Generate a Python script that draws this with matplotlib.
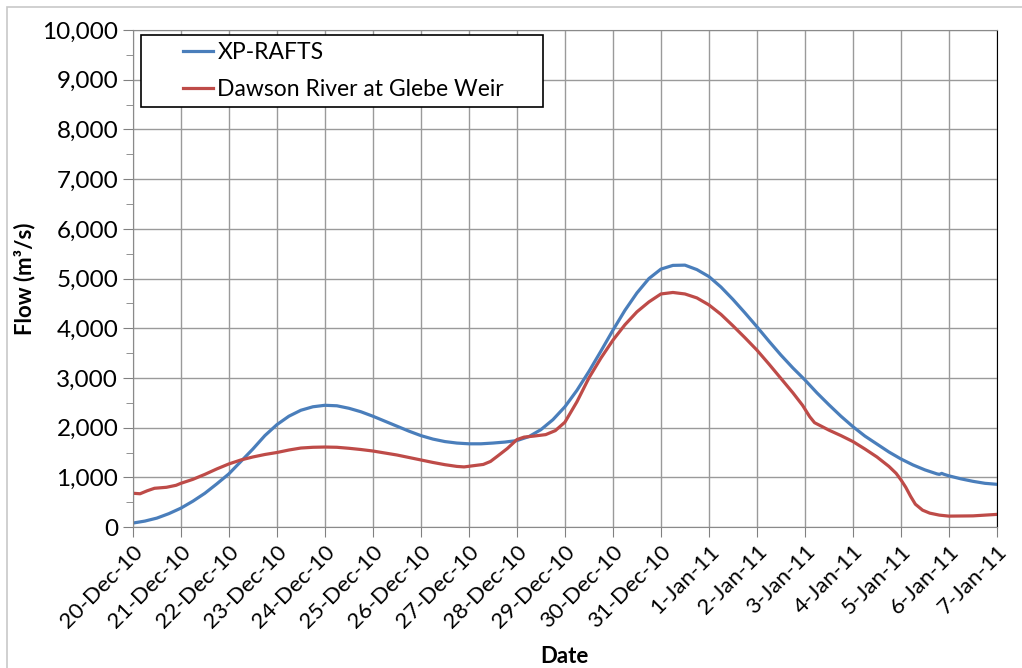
import datetime as dt
import matplotlib
matplotlib.use("Agg")
import matplotlib.pyplot as plt
import matplotlib.dates as mdates
from matplotlib.patches import Rectangle
from matplotlib.ticker import MultipleLocator, FuncFormatter

plt.rcParams['font.family'] = ['Lato', 'DejaVu Sans']

start = dt.datetime(2010, 12, 20)

# XP-RAFTS model hydrograph (days after 20-Dec-10, m3/s)
rafts_days = [0, 0.25, 0.5, 0.75, 1, 1.25, 1.5, 1.75, 2, 2.25, 2.5, 2.75, 3,
              3.25, 3.5, 3.75, 4, 4.25, 4.5, 4.75, 5, 5.25, 5.5, 5.75, 6,
              6.25, 6.5, 6.75, 7, 7.25, 7.5, 7.75, 8, 8.25, 8.5, 8.75, 9,
              9.25, 9.5, 9.75, 10, 10.25, 10.5, 10.75, 11, 11.25, 11.5, 11.75,
              12, 12.25, 12.5, 12.75, 13, 13.25, 13.5, 13.75, 14, 14.25, 14.5,
              14.75, 15, 15.25, 15.5, 15.75, 16, 16.25, 16.5, 16.75, 16.8,
              16.85, 16.9, 17, 17.25, 17.5, 17.75, 18]
rafts_flow = [80, 120, 180, 270, 380, 520, 680, 870, 1070, 1320, 1570, 1840,
              2060, 2230, 2350, 2420, 2450, 2440, 2390, 2320, 2230, 2130, 2030,
              1930, 1840, 1770, 1720, 1690, 1675, 1675, 1690, 1710, 1740,
              1820, 1960, 2160, 2420, 2750, 3130, 3540, 3960, 4360, 4710, 5000,
              5190, 5265, 5270, 5180, 5040, 4830, 4580, 4310, 4030, 3740, 3460,
              3200, 2960, 2700, 2460, 2230, 2020, 1830, 1670, 1510, 1370, 1250,
              1150, 1070, 1060, 1080, 1060, 1030, 970, 920, 880, 860]

# Recorded flow, Dawson River at Glebe Weir
gauge_days = [0, 0.15, 0.3, 0.45, 0.7, 0.9, 1, 1.25, 1.5, 1.75, 2, 2.25, 2.5,
              2.75, 3, 3.25, 3.5, 3.75, 4, 4.25, 4.5, 4.75, 5, 5.25, 5.5, 5.75,
              6, 6.25, 6.5, 6.75, 6.9, 7.1, 7.3, 7.45, 7.6, 7.8, 8, 8.15, 8.35,
              8.6, 8.8, 9, 9.25, 9.5, 9.75, 10, 10.25, 10.5, 10.75, 11, 11.25,
              11.5, 11.75, 12, 12.25, 12.5, 12.75, 13, 13.25, 13.5, 13.75,
              13.95, 14.1, 14.2, 14.5, 14.75, 15, 15.25, 15.5, 15.75, 15.9, 16,
              16.1, 16.2, 16.3, 16.45, 16.6, 16.8, 17, 17.5, 18]
gauge_flow = [680, 670, 730, 780, 800, 840, 880, 960, 1060, 1170, 1270, 1350,
              1410, 1460, 1500, 1550, 1590, 1605, 1610, 1605, 1585, 1560, 1530,
              1490, 1450, 1400, 1350, 1300, 1255, 1220, 1210, 1235, 1260, 1320,
              1430, 1580, 1760, 1810, 1830, 1860, 1940, 2110, 2520, 3000, 3400,
              3760, 4070, 4330, 4530, 4690, 4720, 4690, 4610, 4470, 4280, 4050,
              3810, 3560, 3280, 2990, 2700, 2450, 2220, 2100, 1950, 1840, 1720,
              1570, 1410, 1220, 1080, 950, 800, 620, 460, 340, 280, 240, 220,
              225, 255]

rafts_t = [start + dt.timedelta(days=d) for d in rafts_days]
gauge_t = [start + dt.timedelta(days=d) for d in gauge_days]

fig = plt.figure(figsize=(10.22, 6.68), dpi=100)
ax = fig.add_axes([0.130, 0.211, 0.8455, 0.744])

fig.patches.append(Rectangle((7 / 1022, -0.1), 1.2, 1 - 7 / 668 + 0.1,
                             transform=fig.transFigure, fill=False,
                             edgecolor='#c8c8c8', linewidth=1.2))

l1, = ax.plot(rafts_t, rafts_flow, color='#4A7EBB', lw=2.3)
l2, = ax.plot(gauge_t, gauge_flow, color='#BE4B48', lw=2.3)

ax.set_xlim(start, start + dt.timedelta(days=18))
ax.set_ylim(0, 10000)

ax.xaxis.set_major_locator(mdates.DayLocator())
ax.xaxis.set_major_formatter(mdates.DateFormatter('%-d-%b-%y'))
ax.yaxis.set_major_locator(MultipleLocator(1000))
ax.yaxis.set_minor_locator(MultipleLocator(500))
ax.yaxis.set_major_formatter(FuncFormatter(lambda v, p: f'{v:,.0f}'))

ax.grid(True, which='major', color='#9a9a9a', lw=1)
ax.tick_params(axis='both', which='major', direction='out', length=7,
               color='#808080')
ax.tick_params(axis='y', which='major', labelsize=17.5)
ax.tick_params(axis='x', which='major', labelsize=16)
ax.tick_params(axis='y', which='minor', direction='out', length=5,
               color='#808080')
for lab in ax.get_xticklabels():
    lab.set_rotation(45)
    lab.set_ha('right')
    lab.set_rotation_mode('anchor')

for side in ['left', 'bottom', 'top']:
    ax.spines[side].set_color('#8a8a8a')
ax.spines['right'].set_color('black')

ax.set_xlabel('Date', fontsize=16, fontweight='bold', labelpad=10)
ax.set_ylabel('Flow (m³/s)', fontsize=16, fontweight='bold', labelpad=5)

# legend box
ax.add_patch(Rectangle((0.0093, 0.845), 0.4652, 0.145, transform=ax.transAxes,
                       fill=True, facecolor='white', edgecolor='black',
                       lw=1.2, zorder=4))
leg = ax.legend([l1, l2], ['XP-RAFTS', 'Dawson River at Glebe Weir'],
                loc='upper left', bbox_to_anchor=(0.058, 0.976),
                frameon=False, fontsize=16.5, borderpad=0, borderaxespad=0,
                handlelength=1.3, handletextpad=0.2, labelspacing=0.7)
leg.set_zorder(5)

fig.savefig('out.png', dpi=100)
